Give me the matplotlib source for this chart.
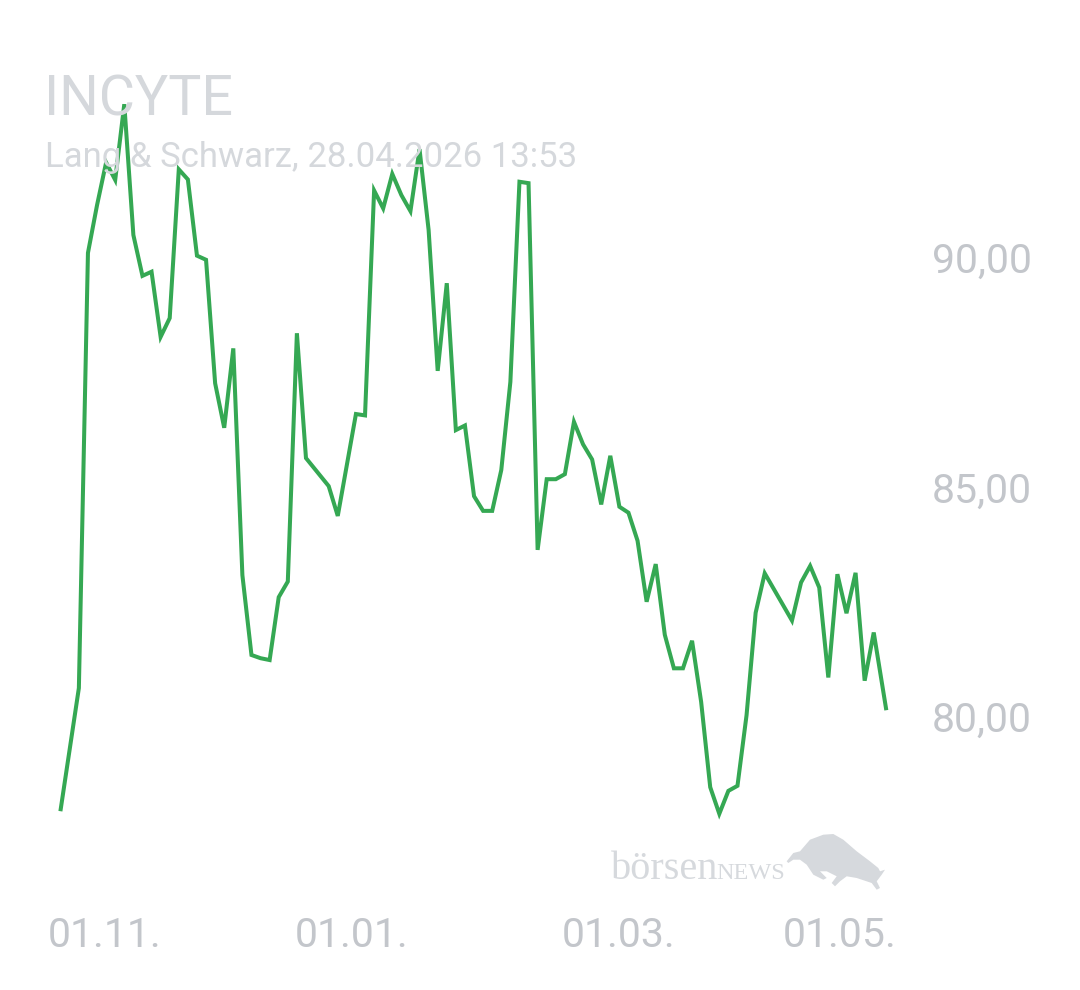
import matplotlib.pyplot as plt
from matplotlib.patches import Polygon

# INCYTE, Lang & Schwarz quotes (x = sample step, gap around year end)
steps = [0, 2, 3, 4, 5, 6, 7, 8, 9, 10, 11, 12, 13, 14, 15, 16, 17, 18, 19,
         20, 21, 22, 23, 24, 25, 26, 27,
         29.5, 30.5, 32.5, 33.5, 34.5, 35.5, 36.5, 37.5, 38.5, 39.5, 40.5,
         41.5, 42.5, 43.5, 44.5, 45.5, 46.5, 47.5, 48.5, 49.5, 50.5, 51.5,
         52.5, 53.5, 54.5, 55.5, 56.5, 57.5, 58.5, 59.5, 60.5, 61.5, 62.5,
         63.5, 64.5, 65.5, 66.5, 67.5, 68.5, 69.5, 70.5, 71.5, 72.5, 73.5,
         74.5, 75.5, 76.5, 77.5, 80.5, 81.5, 82.5, 83.5, 84.5, 85.5, 86.5,
         87.5, 88.5, 89.5, 90.85]
prices = [77.98, 80.62, 90.10, 91.14, 92.07, 91.69, 93.34, 90.49, 89.60, 89.69,
          88.27, 88.68, 91.92, 91.70, 90.04, 89.95, 87.26, 86.29, 88.02,
          83.08, 81.34, 81.27, 81.23, 82.60, 82.94, 88.35, 85.63,
          85.02, 84.37, 86.59, 86.56, 91.46, 91.07, 91.82, 91.36, 91.01,
          92.36, 90.60, 87.53, 89.44, 86.24, 86.34, 84.80, 84.48, 84.48,
          85.37, 87.29, 91.65, 91.62, 83.63, 85.17, 85.17, 85.28, 86.42,
          85.93, 85.60, 84.62, 85.68, 84.57, 84.44, 83.83, 82.50, 83.32,
          81.78, 81.05, 81.05, 81.65, 80.32, 78.46, 77.88, 78.38, 78.49,
          80.03, 82.26, 83.12, 82.09, 82.92, 83.28, 82.81, 80.85, 83.10,
          82.25, 83.13, 80.78, 81.83, 80.18]

x_tick_pos = [4.88, 32.0, 61.45, 85.78]
x_tick_labels = ['01.11.', '01.01.', '01.03.', '01.05.']
y_tick_pos = [80, 85, 90]
y_tick_labels = ['80,00', '85,00', '90,00']

title = 'INCYTE'
subtitle = 'Lang & Schwarz, 28.04.2026 13:53'

W, H = 1080, 990
green = '#35a853'
label_grey = '#c3c6cb'
title_grey = '#d5d8dc'

plt.rcParams['font.family'] = ['Roboto', 'DejaVu Sans']

fig = plt.figure(figsize=(W / 100, H / 100), dpi=100)
fig.patch.set_facecolor('white')

# axes placed so the line spans the same region as the reference
ax = fig.add_axes([60.7 / W, 1 - 831.25 / H, (886 - 60.7) / W, (831.25 - 92.26) / H])
ax.set_xlim(0, 90.85)
ax.set_ylim(77.5, 93.6)
ax.patch.set_alpha(0)

ax.plot(steps, prices, color=green, linewidth=2.9, solid_joinstyle='miter',
        clip_on=False, zorder=3)

for s in ax.spines.values():
    s.set_visible(False)

ax.set_xticks(x_tick_pos)
ax.set_xticklabels(x_tick_labels)
ax.set_yticks(y_tick_pos)
ax.set_yticklabels(y_tick_labels)
ax.yaxis.tick_right()
ax.tick_params(axis='both', length=0, labelsize=29.5, labelcolor=label_grey)
ax.tick_params(axis='x', pad=61)
ax.tick_params(axis='y', pad=33)

# header
fig.text(44 / W, 1 - 115 / H, title, fontsize=40, color=title_grey,
         ha='left', va='baseline', zorder=1)
fig.text(45 / W, 1 - 167 / H, subtitle, fontsize=25, color=title_grey,
         ha='left', va='baseline', zorder=1)

# boersenNEWS watermark
wm_grey = '#d6d9dd'
fig.text(611 / W, 1 - 879 / H, 'börsen', fontsize=29, color=wm_grey,
         family='Liberation Serif', ha='left', va='baseline')
fig.text(716 / W, 1 - 879 / H, 'NEWS', fontsize=17.5, color=wm_grey,
         family='Liberation Serif', ha='left', va='baseline')
bull = [(786.7, 861.3), (793.3, 853), (800, 851.3), (810, 839.7), (823.3, 834.7),
        (833.3, 834), (843.3, 839.7), (856.7, 851.3), (870, 861.3), (878.3, 868),
        (880, 871.3), (885, 869.7), (881.7, 874.7), (876.7, 881.3), (880, 888),
        (876.7, 889.7), (871.7, 883), (856.7, 878), (846.7, 876.3), (840, 881.3),
        (835, 886.3), (831.7, 883), (836.7, 876.3), (826.7, 871.3), (820, 871.3),
        (826.7, 878), (823.3, 879.7), (813.3, 874.7), (806.7, 864.7), (800, 859.7),
        (793.3, 859.7), (788.3, 863)]
fig.add_artist(Polygon([(px / W, 1 - py / H) for px, py in bull], closed=True,
                       transform=fig.transFigure, facecolor=wm_grey,
                       edgecolor='none'))

fig.savefig('out.png', dpi=100, facecolor='white')
